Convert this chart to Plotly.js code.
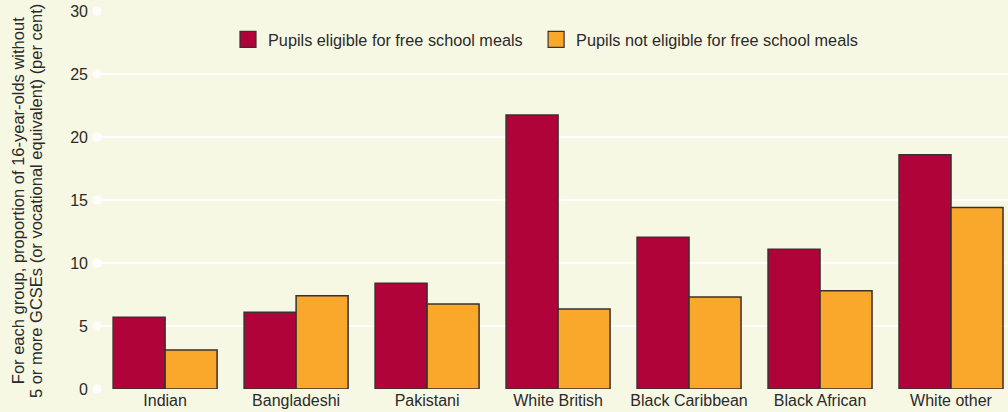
<!DOCTYPE html>
<html>
<head>
<meta charset="utf-8">
<script src="https://cdn.plot.ly/plotly-3.0.1.min.js"></script>
<style>
html,body{margin:0;padding:0;background:#f7f8e4;}
#chart{width:1008px;height:412px;}
</style>
</head>
<body>
<div id="chart"></div>
<script>
var categories = ["Indian", "Bangladeshi", "Pakistani", "White British", "Black Caribbean", "Black African", "White other"];
var seriesNames = ["Pupils eligible for free school meals", "Pupils not eligible for free school meals"];
var eligible = [5.7, 6.1, 8.4, 21.75, 12.05, 11.1, 18.6];
var notEligible = [3.1, 7.4, 6.75, 6.35, 7.3, 7.8, 14.4];
var yTicks = [0, 5, 10, 15, 20, 25, 30];
var yTitleLines = ["For each group, proportion of 16-year-olds without", "5 or more GCSEs (or vocational equivalent) (per cent)"];

var colors = ["#b0033a", "#f9a82b"];
var edge = "#3a3030";
var textColor = "#2a2a2a";

var traces = [
  {
    type: "scatter", mode: "markers", showlegend: false, hoverinfo: "skip",
    x: yTicks.map(function(){return 0;}), y: yTicks, xaxis: "x", yaxis: "y",
    marker: {color: "#ffffff", size: 9, line: {width: 0}},
    cliponaxis: false
  },
  {
    type: "scatter", mode: "markers", name: seriesNames[0], showlegend: true, legend: "legend",
    x: [null], y: [null], xaxis: "x",
    marker: {symbol: "square", size: 18, color: colors[0], line: {color: edge, width: 1.2}}
  },
  {
    type: "scatter", mode: "markers", name: seriesNames[1], showlegend: true, legend: "legend2",
    x: [null], y: [null], xaxis: "x",
    marker: {symbol: "square", size: 18, color: colors[1], line: {color: edge, width: 1.2}}
  },
  {
    type: "bar", name: seriesNames[0], showlegend: false, xaxis: "x2",
    x: categories, y: eligible,
    marker: {color: colors[0], line: {color: edge, width: 1.5}}
  },
  {
    type: "bar", name: seriesNames[1], showlegend: false, xaxis: "x2",
    x: categories, y: notEligible,
    marker: {color: colors[1], line: {color: edge, width: 1.5}}
  }
];

var annotations = yTitleLines.map(function(t, i) {
  return {
    text: t, xref: "paper", yref: "paper",
    x: i === 0 ? -0.0867 : -0.0670, y: 0.497,
    xanchor: "center", yanchor: "middle", textangle: -90, showarrow: false,
    font: {size: 16.5, color: textColor}
  };
});

function legendBox(x) {
  return {
    orientation: "h", x: x, xanchor: "left", y: 0.924, yanchor: "middle",
    bgcolor: "rgba(0,0,0,0)", borderwidth: 0, font: {size: 16.25, color: textColor},
    itemwidth: 30
  };
}

var layout = {
  width: 1008, height: 412,
  paper_bgcolor: "#f7f8e4", plot_bgcolor: "#f7f8e4",
  margin: {l: 97, r: 0, t: 11, b: 23, pad: 0},
  barmode: "group", bargap: 0.206, bargroupgap: 0,
  font: {family: "Liberation Sans, Arial, sans-serif", size: 16, color: textColor},
  showlegend: true,
  legend: legendBox(0.1438),
  legend2: legendBox(0.4820),
  xaxis: {
    range: [0, 1], visible: false, fixedrange: true
  },
  xaxis2: {
    type: "category", overlaying: "x", anchor: "y", side: "bottom", range: [-0.52, 6.435],
    showgrid: false, zeroline: false, showline: false, ticks: "",
    tickfont: {size: 16, color: textColor}, fixedrange: true
  },
  yaxis: {
    range: [0, 30], tickvals: yTicks, showgrid: true, gridcolor: "#ffffff", gridwidth: 2,
    zeroline: false, showline: false, ticks: "", ticklabelstandoff: 8,
    tickfont: {size: 16, color: textColor},
    fixedrange: true
  },
  annotations: annotations
};

Plotly.newPlot("chart", traces, layout, {displayModeBar: false, staticPlot: true});
</script>
</body>
</html>
